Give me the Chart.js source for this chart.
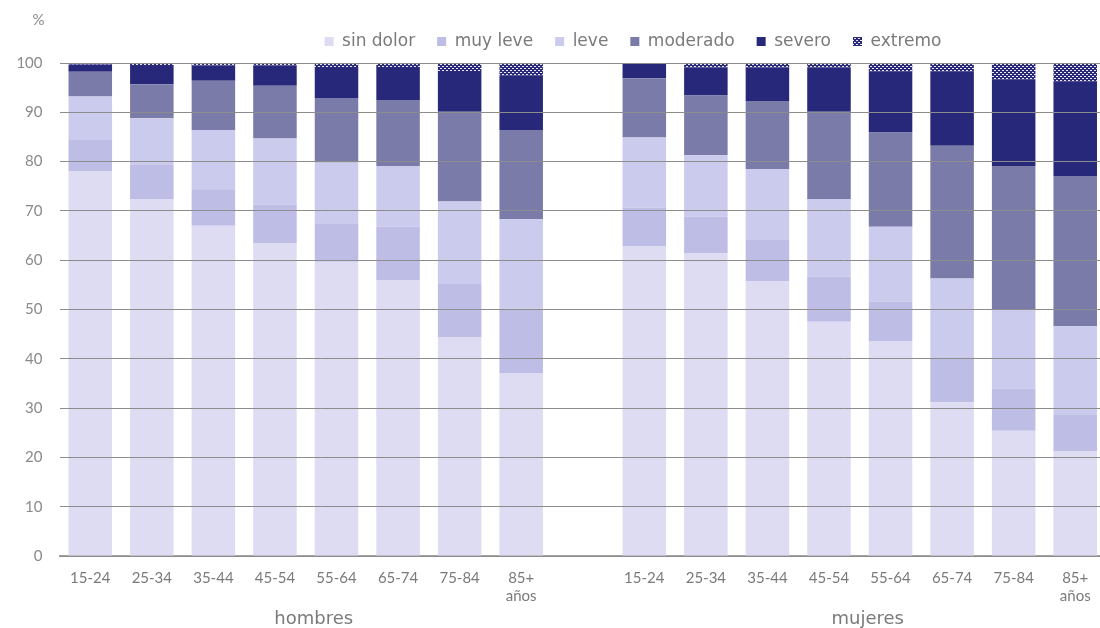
<!DOCTYPE html>
<html>
<head>
<meta charset="utf-8">
<script src="https://cdn.jsdelivr.net/npm/chart.js@4.4.1/dist/chart.umd.min.js"></script>
<style>
  html, body { margin: 0; padding: 0; overflow: hidden; background: #ffffff; }
  #wrap { width: 1100px; height: 628px; overflow: hidden; position: relative; }
  canvas { display: block; }
</style>
</head>
<body>
<div id="wrap"><canvas id="chart" width="1110" height="628"></canvas></div>
<script>
// Age bands shown for each sex, with an empty slot separating the two groups
const ageBands = ['15-24', '25-34', '35-44', '45-54', '55-64', '65-74', '75-84', ['85+', 'años']];
const groups = ['hombres', 'mujeres'];
const yTicks = [0, 10, 20, 30, 40, 50, 60, 70, 80, 90, 100];

// Pain intensity shares (%) — men
const hSinDolor = [78.1, 72.4, 67.0, 63.4, 59.7, 56.0, 44.3, 37.1];
const hMuyLeve  = [6.3, 6.9, 7.4, 7.9, 7.8, 10.8, 11.0, 13.1];
const hLeve     = [8.8, 9.5, 12.0, 13.4, 12.3, 12.3, 16.6, 18.1];
const hModerado = [5.0, 6.9, 10.0, 10.7, 13.1, 13.4, 18.2, 18.1];
const hSevero   = [1.5, 3.7, 3.1, 4.1, 6.1, 6.5, 8.3, 11.0];
const hExtremo  = [0.3, 0.6, 0.5, 0.5, 1.0, 1.0, 1.6, 2.6];

// Pain intensity shares (%) — women
const mSinDolor = [62.9, 61.4, 55.8, 47.5, 43.5, 31.2, 25.4, 21.2];
const mMuyLeve  = [7.8, 7.4, 8.3, 9.2, 8.1, 9.1, 8.6, 7.4];
const mLeve     = [14.2, 12.5, 14.4, 15.7, 15.2, 16.0, 16.0, 18.0];
const mModerado = [12.0, 12.1, 13.8, 17.7, 19.1, 26.9, 29.1, 30.5];
const mSevero   = [3.1, 5.7, 6.8, 9.0, 12.3, 15.0, 17.6, 19.2];
const mExtremo  = [0.0, 0.9, 0.9, 0.9, 1.8, 1.8, 3.3, 3.7];

const seriesNames = ['sin dolor', 'muy leve', 'leve', 'moderado', 'severo', 'extremo'];

// Category axis: 8 men bands, one blank gap, 8 women bands
const labels = [...ageBands, '', ...ageBands];
const join = (h, m) => [...h, null, ...m];

// Dotted fill for the "extremo" segment
function dottedPattern() {
  const t = document.createElement('canvas');
  t.width = 4; t.height = 4;
  const g = t.getContext('2d');
  g.fillStyle = '#2a2a78';
  g.fillRect(0, 0, 4, 4);
  g.fillStyle = '#e8e8f4';
  g.fillRect(0, 0, 2, 1);
  g.fillRect(2, 2, 2, 1);
  return g.createPattern(t, 'repeat');
}

const colors = ['#dddcf2', '#bdbde6', '#cbcbee', '#7b7ba9', '#28287a', dottedPattern()];
const seriesData = [
  join(hSinDolor, mSinDolor),
  join(hMuyLeve, mMuyLeve),
  join(hLeve, mLeve),
  join(hModerado, mModerado),
  join(hSevero, mSevero),
  join(hExtremo, mExtremo)
];

const NUM_FONT = 'Lato, "Open Sans", sans-serif';
const WORD_FONT = '"DejaVu Sans", Lato, sans-serif';
const TEXT = '#7a7a7a';

// Group captions under the age bands and the "%" unit above the value axis
const captions = {
  id: 'captions',
  afterDraw(chart) {
    const ctx = chart.ctx;
    const x = chart.scales.x;
    const y = chart.scales.y;
    ctx.save();
    ctx.fillStyle = TEXT;
    ctx.font = '18px ' + WORD_FONT;
    ctx.textAlign = 'center';
    ctx.textBaseline = 'middle';
    const n = ageBands.length;
    groups.forEach((g, k) => {
      const first = k * (n + 1);
      const last = first + n - 1;
      const cx = (x.getPixelForTick(first) + x.getPixelForTick(last)) / 2 + 8;
      ctx.fillText(g, cx, 619);
    });
    ctx.font = '15px ' + NUM_FONT;
    ctx.fillStyle = '#8a8a8a';
    ctx.textAlign = 'right';
    ctx.fillText('%', y.right - 15, chart.chartArea.top - 43);
    ctx.restore();
  }
};

// Place the legend row right of centre and a little higher above the plot
const legendShift = {
  id: 'legendShift',
  afterLayout(chart) {
    const lg = chart.legend;
    if (!lg) return;
    lg.left += 80; lg.right += 80;
    lg.top -= 3; lg.bottom -= 3;
  }
};

new Chart(document.getElementById('chart'), {
  type: 'bar',
  data: {
    labels: labels,
    datasets: seriesNames.map((name, i) => ({
      label: name,
      data: seriesData[i],
      backgroundColor: colors[i],
      borderWidth: 0,
      categoryPercentage: 1,
      barPercentage: 0.707
    }))
  },
  plugins: [captions, legendShift],
  options: {
    responsive: false,
    animation: false,
    devicePixelRatio: 1,
    events: [],
    layout: { padding: { top: 14, right: 4, bottom: 0, left: 0 } },
    plugins: {
      tooltip: { enabled: false },
      legend: {
        position: 'top',
        align: 'center',
        labels: {
          boxWidth: 9,
          boxHeight: 9,
          padding: 22,
          color: TEXT,
          font: { family: WORD_FONT, size: 17 }
        }
      }
    },
    scales: {
      x: {
        stacked: true,
        grid: { display: false, drawTicks: false },
        border: { display: true, color: '#a3a3a3', width: 2 },
        ticks: {
          color: TEXT,
          padding: 13,
          maxRotation: 0,
          autoSkip: false,
          font: { family: NUM_FONT, size: 15 }
        },
        afterFit(scale) { scale.height = 72; }
      },
      y: {
        stacked: true,
        min: 0,
        max: 100,
        afterBuildTicks(scale) { scale.ticks = yTicks.map(v => ({ value: v })); },
        grid: { color: '#8c8c8c', lineWidth: 1, drawTicks: false, z: 1 },
        border: { display: false },
        ticks: {
          color: '#8a8a8a',
          padding: 17,
          font: { family: NUM_FONT, size: 15 }
        },
        afterFit(scale) { scale.width = 59.5; }
      }
    }
  }
});
</script>
</body>
</html>
